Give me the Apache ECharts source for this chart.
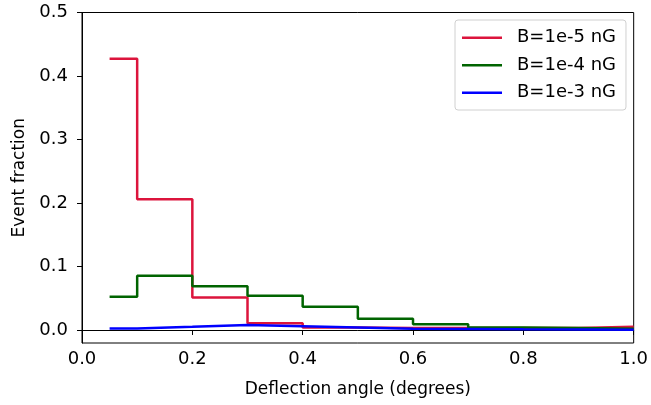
<!DOCTYPE html>
<html>
<head>
<meta charset="utf-8">
<script src="https://cdn.jsdelivr.net/npm/echarts@6/dist/echarts.min.js"></script>
<style>html,body{margin:0;padding:0;background:#fff;}#c{width:651px;height:405px;}</style>
</head>
<body>
<div id="c"></div>
<script>
const binEdges = [0.05, 0.1, 0.2, 0.3, 0.4, 0.5, 0.6, 0.7, 0.8, 0.9, 1.0];
const seriesNames = ['B=1e-5 nG', 'B=1e-4 nG', 'B=1e-3 nG'];
const valsB5 = [0.427, 0.206, 0.051, 0.0105, 0.004, 0.003, 0.003, 0.003, 0.003, 0.005];
const valsB4 = [0.0525, 0.0855, 0.069, 0.054, 0.0365, 0.0175, 0.009, 0.004, 0.003, 0.002];
const valsB3 = [0.0025, 0.005, 0.0078, 0.006, 0.004, 0.002, 0.0015, 0.001, 0.0008, 0.0005];
const yTicks = [0.0, 0.1, 0.2, 0.3, 0.4, 0.5];
const colors = ['#dc143c', '#006400', '#0000ff'];

function stepData(vals) {
  return binEdges.map((e, i) => [e, vals[Math.min(i, vals.length - 1)]]);
}
const font = 'DejaVu Sans';
const fs = 18;
const fsName = 17;
const chart = echarts.init(document.getElementById('c'), null, {renderer: 'canvas'});
const allVals = [valsB5, valsB4, valsB3];
chart.setOption({
  animation: false,
  backgroundColor: '#fff',
  grid: {left: 82, right: 14, top: 12.5, bottom: 62, show: true, borderColor: '#000', borderWidth: 1, backgroundColor: 'transparent'},
  legend: {
    left: 455, top: 20,
    orient: 'vertical',
    icon: 'rect',
    itemWidth: 40, itemHeight: 2.5, itemGap: 9.5,
    padding: [8.7, 10, 8.3, 7],
    backgroundColor: '#fff',
    borderColor: '#d0d0d0', borderWidth: 1, borderRadius: 3,
    textStyle: {fontFamily: font, fontSize: fs, color: '#000', padding: [0, 0, 0, 10]},
    data: seriesNames
  },
  xAxis: {
    type: 'value', min: 0, max: 1, interval: 0.2,
    name: 'Deflection angle (degrees)', nameLocation: 'middle', nameGap: 38,
    nameTextStyle: {fontFamily: font, fontSize: fsName, color: '#000'},
    axisLine: {show: true, lineStyle: {color: '#000', width: 1}},
    axisTick: {show: true, inside: false, length: 5, lineStyle: {color: '#000'}},
    axisLabel: {fontFamily: font, fontSize: fs, color: '#000', margin: 7, formatter: v => v.toFixed(1)},
    splitLine: {show: false}
  },
  yAxis: {
    type: 'value', min: -0.0205, max: 0.5,
    name: 'Event fraction', nameLocation: 'middle', nameGap: 50,
    nameTextStyle: {fontFamily: font, fontSize: fsName, color: '#000'},
    axisLine: {show: true, lineStyle: {color: '#000', width: 1}},
    axisTick: {show: true, inside: false, length: 5, lineStyle: {color: '#000'}, customValues: yTicks},
    axisLabel: {fontFamily: font, fontSize: fs, color: '#000', margin: 14, customValues: yTicks, formatter: v => v.toFixed(1)},
    splitLine: {show: false}
  },
  series: seriesNames.map((n, i) => ({
    name: n, type: 'line', step: 'end', symbol: 'none',
    data: stepData(allVals[i]),
    lineStyle: {color: colors[i], width: 2.5},
    itemStyle: {color: colors[i]},
    z: 2 + i
  }))
});
</script>
</body>
</html>
